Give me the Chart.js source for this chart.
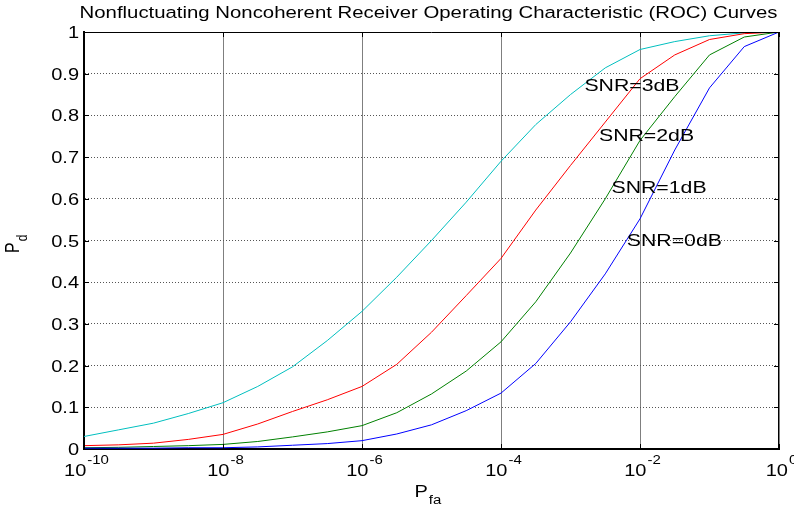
<!DOCTYPE html>
<html>
<head>
<meta charset="utf-8">
<script src="https://cdn.jsdelivr.net/npm/chart.js@4.4.1/dist/chart.umd.min.js"></script>
<style>
  html, body { margin: 0; padding: 0; background: #fff; }
  #wrap { width: 794px; height: 510px; }
</style>
</head>
<body>
<div id="wrap"><canvas id="roc"></canvas></div>
<script>
// log10(Pfa) sample points
const logPfa = [-10, -9.5, -9, -8.5, -8, -7.5, -7, -6.5, -6, -5.5, -5, -4.5, -4, -3.5, -3, -2.5, -2, -1.5, -1, -0.5, 0];

// Pd
const pdSnr3 = [0.030, 0.046, 0.062, 0.085, 0.111, 0.150, 0.197, 0.260, 0.330, 0.412, 0.500, 0.592, 0.690, 0.778, 0.850, 0.914, 0.958, 0.977, 0.991, 0.998, 1.000];
const pdSnr2 = [0.008, 0.010, 0.014, 0.023, 0.035, 0.060, 0.090, 0.118, 0.150, 0.203, 0.280, 0.368, 0.457, 0.573, 0.680, 0.784, 0.888, 0.945, 0.982, 0.996, 1.000];
const pdSnr1 = [0.003, 0.004, 0.006, 0.008, 0.011, 0.018, 0.029, 0.041, 0.056, 0.087, 0.132, 0.187, 0.257, 0.353, 0.470, 0.600, 0.740, 0.845, 0.945, 0.988, 1.000];
const pdSnr0 = [0.002, 0.002, 0.002, 0.003, 0.003, 0.005, 0.009, 0.013, 0.020, 0.036, 0.058, 0.092, 0.134, 0.205, 0.305, 0.420, 0.552, 0.717, 0.866, 0.965, 1.000];

const xTickExp = [-10, -8, -6, -4, -2, 0];
const yTicks = [0, 0.1, 0.2, 0.3, 0.4, 0.5, 0.6, 0.7, 0.8, 0.9, 1];
const yTickLabels = ["0", "0.1", "0.2", "0.3", "0.4", "0.5", "0.6", "0.7", "0.8", "0.9", "1"];

const snrLabels = ["SNR=3dB", "SNR=2dB", "SNR=1dB", "SNR=0dB"];
const snrLabelAt = [[-2.8, 0.859], [-2.59, 0.739], [-2.41, 0.613], [-2.19, 0.488]];

const titleText = "Nonfluctuating Noncoherent Receiver Operating Characteristic (ROC) Curves";

const FONT = '"Liberation Sans", Arial, Helvetica, sans-serif';
const SX = 1.25; // the figure is a bit wider than tall

function toPoints(pd) {
  return logPfa.map((e, i) => ({ x: Math.pow(10, e), y: pd[i] }));
}

function series(label, pd, color) {
  return {
    label: label,
    data: toPoints(pd),
    borderColor: color,
    backgroundColor: color,
    borderWidth: 1,
    pointRadius: 0,
    tension: 0,
    fill: false,
  };
}

function wideText(ctx, str, x, y, size, align) {
  ctx.save();
  ctx.font = size + "px " + FONT;
  ctx.textBaseline = "alphabetic";
  ctx.textAlign = "left";
  const w = ctx.measureText(str).width * SX;
  let x0 = x;
  if (align === "center") x0 = x - w / 2;
  if (align === "right") x0 = x - w;
  ctx.translate(x0, y);
  ctx.scale(SX, 1);
  ctx.fillStyle = "#000";
  ctx.fillText(str, 0, 0);
  ctx.restore();
  return w;
}

function textWidth(ctx, str, size) {
  ctx.save();
  ctx.font = size + "px " + FONT;
  const w = ctx.measureText(str).width * SX;
  ctx.restore();
  return w;
}

const matlabAxes = {
  id: "matlabAxes",
  afterDraw(chart) {
    const ctx = chart.ctx;
    const area = chart.chartArea;
    const xs = chart.scales.x;
    const ys = chart.scales.y;

    // box + inward ticks
    ctx.save();
    ctx.strokeStyle = "#000";
    ctx.lineWidth = 1;
    ctx.beginPath();
    ctx.moveTo(area.left, area.top + 0.5);
    ctx.lineTo(area.right, area.top + 0.5);
    ctx.moveTo(area.right - 0.5, area.top);
    ctx.lineTo(area.right - 0.5, area.bottom);
    yTicks.forEach((v) => {
      const py = Math.round(ys.getPixelForValue(v)) + 0.5;
      ctx.moveTo(area.left, py);
      ctx.lineTo(area.left + 5, py);
      ctx.moveTo(area.right, py);
      ctx.lineTo(area.right - 5, py);
    });
    xTickExp.forEach((e) => {
      const px = Math.round(xs.getPixelForValue(Math.pow(10, e))) + 0.5;
      ctx.moveTo(px, area.bottom);
      ctx.lineTo(px, area.bottom - 5);
      ctx.moveTo(px, area.top);
      ctx.lineTo(px, area.top + 5);
    });
    ctx.stroke();
    ctx.restore();

    // y tick labels
    yTicks.forEach((v, i) => {
      wideText(ctx, yTickLabels[i], area.left - 5, ys.getPixelForValue(v) + 6, 16, "right");
    });

    // x tick labels 10^n
    xTickExp.forEach((e) => {
      const px = xs.getPixelForValue(Math.pow(10, e));
      const exp = String(e);
      const w1 = textWidth(ctx, "10", 16);
      const w2 = textWidth(ctx, exp, 12);
      const x0 = px + 2 - (w1 + w2) / 2;
      wideText(ctx, "10", x0, area.bottom + 27, 16, "left");
      wideText(ctx, exp, x0 + w1 + 1, area.bottom + 15, 12, "left");
    });

    // x axis title P_fa
    const cx = (area.left + area.right) / 2;
    const wp = textWidth(ctx, "P", 16);
    wideText(ctx, "P", cx - 17, area.bottom + 48, 16, "left");
    wideText(ctx, "fa", cx - 17 + wp + 1, area.bottom + 55, 12, "left");

    // y axis title P_d (rotated)
    ctx.save();
    ctx.translate(19, 253);
    ctx.rotate(-Math.PI / 2);
    ctx.scale(1, SX);
    ctx.fillStyle = "#000";
    ctx.font = "16px " + FONT;
    ctx.fillText("P", 0, 0);
    const wP = ctx.measureText("P").width;
    ctx.font = "12px " + FONT;
    ctx.fillText("d", wP + 1, 6);
    ctx.restore();

    // title
    wideText(ctx, titleText, (area.left + area.right) / 2 - 3, 18, 16.3, "center");

    // curve labels
    snrLabels.forEach((s, i) => {
      const p = snrLabelAt[i];
      wideText(ctx, s, xs.getPixelForValue(Math.pow(10, p[0])), ys.getPixelForValue(p[1]), 17, "left");
    });
  },
};

new Chart(document.getElementById("roc"), {
  type: "line",
  data: {
    datasets: [
      series("SNR=0dB", pdSnr0, "#0000ff"),
      series("SNR=1dB", pdSnr1, "#008000"),
      series("SNR=2dB", pdSnr2, "#ff0000"),
      series("SNR=3dB", pdSnr3, "#00bfbf"),
    ],
  },
  options: {
    responsive: true,
    maintainAspectRatio: false,
    animation: false,
    layout: {
      padding: { left: 84, right: 15, top: 32, bottom: 61 },
    },
    plugins: {
      legend: { display: false },
      title: { display: false },
      tooltip: { enabled: false },
    },
    scales: {
      x: {
        type: "logarithmic",
        min: 1e-10,
        max: 1,
        afterBuildTicks: (scale) => {
          scale.ticks = xTickExp.map((e) => ({ value: Math.pow(10, e) }));
        },
        ticks: { display: false },
        grid: {
          drawTicks: false,
          color: "#7f7f7f",
          lineWidth: 1,
        },
        border: { display: true, color: "#000", width: 2 },
      },
      y: {
        min: 0,
        max: 1,
        afterBuildTicks: (scale) => {
          scale.ticks = yTicks.map((v) => ({ value: v }));
        },
        ticks: { display: false },
        grid: {
          drawTicks: false,
          color: "#555555",
          lineWidth: 1,
        },
        border: { display: true, color: "#000", width: 2, dash: [1, 2] },
      },
    },
  },
  plugins: [matlabAxes],
});
</script>
</body>
</html>
